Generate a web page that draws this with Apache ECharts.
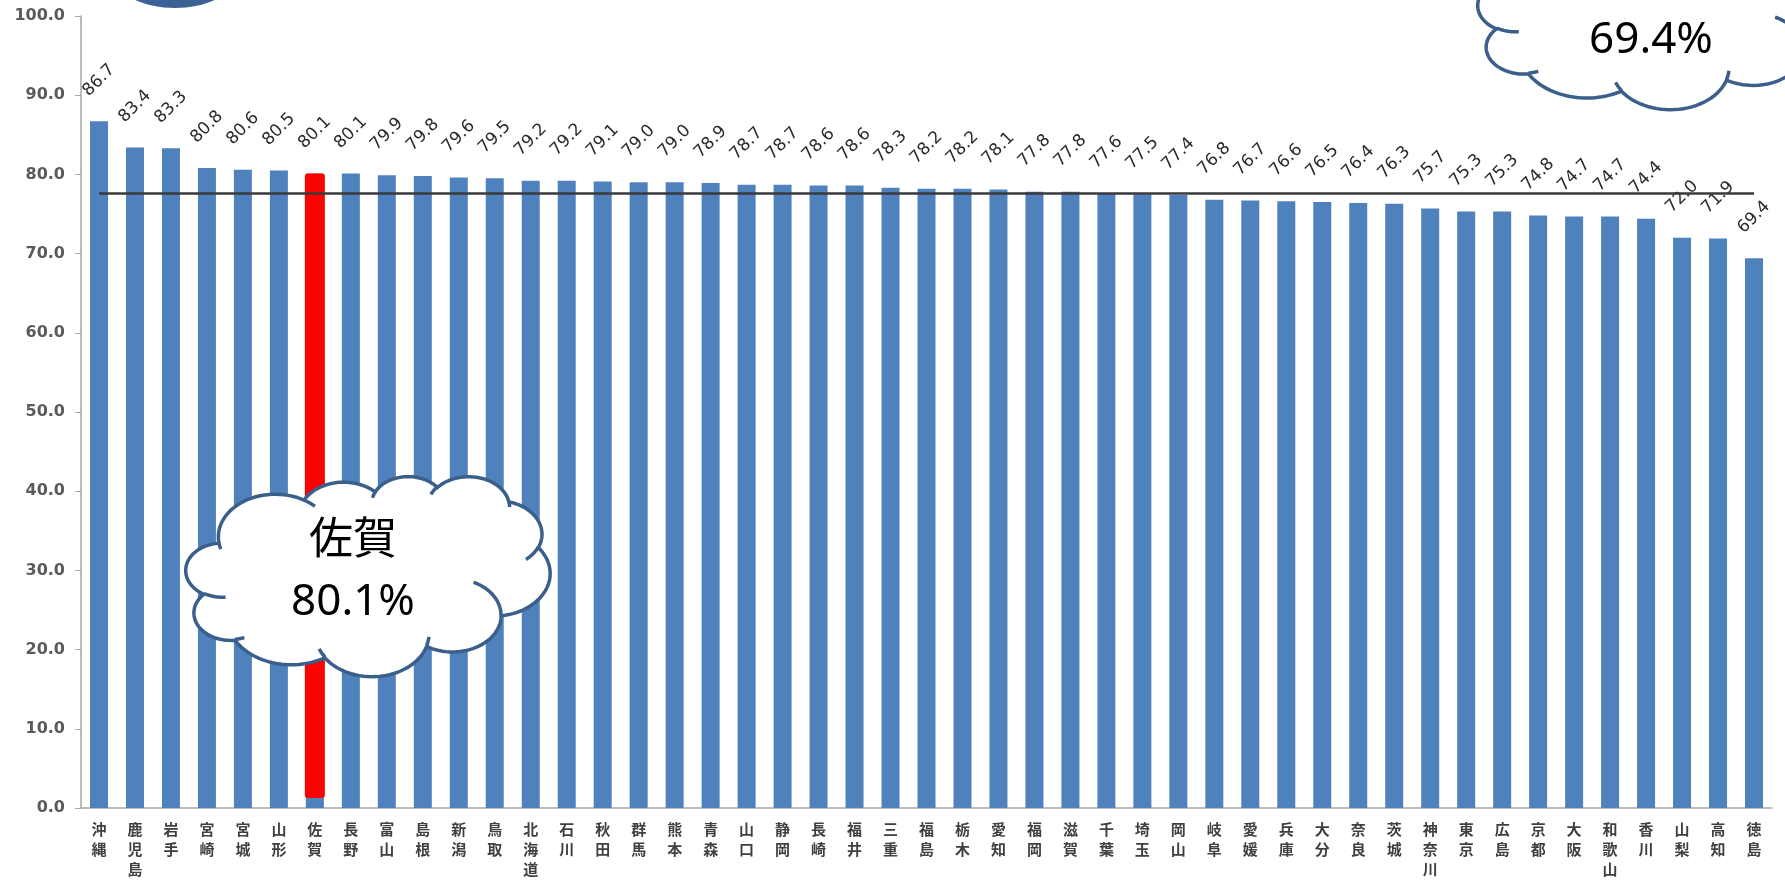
<!DOCTYPE html>
<html>
<head>
<meta charset="utf-8">
<script src="https://cdn.jsdelivr.net/npm/echarts@6/dist/echarts.min.js"></script>
<style>
  html, body { margin: 0; padding: 0; background: #fff; }
  #chart { width: 1785px; height: 883px; }
</style>
</head>
<body>
<div id="chart"></div>
<script>
// 都道府県（降順）
const prefectures = [
  '沖縄', '鹿児島', '岩手', '宮崎', '宮城', '山形', '佐賀', '長野', '富山', '島根',
  '新潟', '鳥取', '北海道', '石川', '秋田', '群馬', '熊本', '青森', '山口', '静岡',
  '長崎', '福井', '三重', '福島', '栃木', '愛知', '福岡', '滋賀', '千葉', '埼玉',
  '岡山', '岐阜', '愛媛', '兵庫', '大分', '奈良', '茨城', '神奈川', '東京', '広島',
  '京都', '大阪', '和歌山', '香川', '山梨', '高知', '徳島'
];
const rates = [
  86.7, 83.4, 83.3, 80.8, 80.6, 80.5, 80.1, 80.1, 79.9, 79.8,
  79.6, 79.5, 79.2, 79.2, 79.1, 79.0, 79.0, 78.9, 78.7, 78.7,
  78.6, 78.6, 78.3, 78.2, 78.2, 78.1, 77.8, 77.8, 77.6, 77.5,
  77.4, 76.8, 76.7, 76.6, 76.5, 76.4, 76.3, 75.7, 75.3, 75.3,
  74.8, 74.7, 74.7, 74.4, 72.0, 71.9, 69.4
];
const nationalAvg = 77.6; // 全国平均の横線
const highlightName = '佐賀';
const lowestName = '徳島';

const highlightIdx = prefectures.indexOf(highlightName);
const lowestIdx = prefectures.indexOf(lowestName);

// PowerPointの雲形 (43200 x 43200)
const CLOUD_START = [3900, 14370];
const CLOUD_ARCS = [
  [6753, 9190, -11429249, 7426832],
  [5333, 7267, -8646143, 5396714],
  [4365, 5945, -8748475, 5983381],
  [4857, 6595, -7859164, 7034504],
  [5333, 7273, -4722533, 6541615],
  [6775, 9220, -2776035, 7816140],
  [5785, 7867, 37501, 6842000],
  [6752, 9215, 1347096, 6910353],
  [7720, 10543, 3974558, 4542661],
  [4360, 5918, -16496525, 8804134],
  [4345, 5945, -14809710, 9151131]
];
const CLOUD_HOOKS = [
  [4693, 26177, 4345, 5945, 5204520, 1585770],
  [6928, 34899, 4360, 5918, 4416628, 686848],
  [16478, 39090, 6752, 9215, 8257449, 844866],
  [28827, 34751, 6752, 9215, 387196, 959901],
  [34129, 22954, 5785, 7867, -4217541, 4255042],
  [41798, 15354, 5333, 7273, 1819082, 1665090],
  [38324, 5426, 4857, 6595, -824660, 891534],
  [29078, 3952, 4857, 6595, -8950887, 1091722],
  [22141, 4720, 4365, 5945, -9809656, 1061181],
  [14000, 5192, 6753, 9190, -4002417, 739161],
  [4127, 15789, 6753, 9190, 9459261, 711490]
];

function arcTo(pts, wR, hR, stAng, swAng) {
  const [px, py] = pts[pts.length - 1];
  const st = stAng / 60000 * Math.PI / 180;
  const sw = swAng / 60000 * Math.PI / 180;
  const toParam = a => Math.atan2(wR * Math.sin(a), hR * Math.cos(a));
  const t1 = toParam(st);
  let t2 = toParam(st + sw);
  while (t2 - t1 - sw > Math.PI) t2 -= 2 * Math.PI;
  while (t2 - t1 - sw < -Math.PI) t2 += 2 * Math.PI;
  const cx = px - wR * Math.cos(t1);
  const cy = py - hR * Math.sin(t1);
  const n = 30;
  for (let i = 1; i <= n; i++) {
    const t = t1 + (t2 - t1) * i / n;
    pts.push([cx + wR * Math.cos(t), cy + hR * Math.sin(t)]);
  }
}

function cloud(x0, y0, w, h, text, tx, ty) {
  const map = p => [x0 + p[0] * w / 43200, y0 + p[1] * h / 43200];
  const stroke = { stroke: '#3a5f8b', lineWidth: 3.5 };
  let outline = [CLOUD_START.slice()];
  CLOUD_ARCS.forEach(a => arcTo(outline, a[0], a[1], a[2], a[3]));
  const children = [{
    type: 'polygon',
    z: 100,
    shape: { points: outline.map(map) },
    style: Object.assign({ fill: '#fff' }, stroke)
  }];
  CLOUD_HOOKS.forEach(hk => {
    let pts = [[hk[0], hk[1]]];
    arcTo(pts, hk[2], hk[3], hk[4], hk[5]);
    children.push({
      type: 'polyline',
      z: 101,
      shape: { points: pts.map(map) },
      style: Object.assign({ fill: null }, stroke)
    });
  });
  children.push({
    type: 'text',
    z: 102,
    style: {
      text: text, x: tx, y: ty,
      align: 'center', verticalAlign: 'middle',
      fontSize: 44, lineHeight: 61,
      fontFamily: '"Noto Sans", "Noto Sans CJK JP"',
      fill: '#000'
    }
  });
  return { type: 'group', children: children };
}

const chart = echarts.init(document.getElementById('chart'));

chart.setOption({
  animation: false,
  backgroundColor: '#fff',
  grid: { left: 81, right: 13, top: 16, bottom: 75 },
  xAxis: {
    type: 'category',
    data: prefectures,
    axisLine: { lineStyle: { color: '#a6a6a6', width: 1.5 } },
    axisTick: { length: 6, lineStyle: { color: '#a6a6a6' } },
    axisLabel: {
      interval: 0,
      margin: 11,
      fontSize: 15,
      lineHeight: 20,
      fontWeight: 'bold',
      color: '#404040',
      fontFamily: '"Noto Sans CJK JP"',
      formatter: name => name.split('').join('\n')
    }
  },
  yAxis: {
    type: 'value',
    min: 0,
    max: 100,
    interval: 10,
    axisLine: { show: true, lineStyle: { color: '#a6a6a6', width: 1.5 } },
    axisTick: { show: true, length: 6, lineStyle: { color: '#a6a6a6' } },
    splitLine: { show: false },
    axisLabel: {
      margin: 16,
      fontSize: 16,
      fontWeight: 'bold',
      color: '#5a5a5a',
      fontFamily: '"DejaVu Sans"',
      formatter: v => v.toFixed(1)
    }
  },
  series: [
    {
      type: 'bar',
      data: rates,
      barWidth: 18,
      itemStyle: { color: '#4f81bd' },
      label: {
        show: true,
        position: 'top',
        distance: 41,
        rotate: 45,
        align: 'center',
        verticalAlign: 'middle',
        fontSize: 17,
        color: '#2b2b2b',
        fontFamily: '"DejaVu Sans"',
        formatter: p => p.value.toFixed(1)
      }
    },
    {
      // 佐賀の赤いバー
      type: 'custom',
      z: 3,
      data: [[highlightIdx, rates[highlightIdx]]],
      renderItem: (params, api) => {
        const top = api.coord([api.value(0), api.value(1)]);
        const base = api.coord([api.value(0), 0]);
        return {
          type: 'rect',
          shape: { x: top[0] - 10, y: top[1], width: 20, height: base[1] - top[1] - 10, r: 3 },
          style: { fill: '#ff0000' }
        };
      },
      markLine: {
        silent: true,
        symbol: 'none',
        z: 5,
        label: { show: false },
        lineStyle: { color: '#3a3a3a', width: 2.5, type: 'solid' },
        data: [[
          { coord: [prefectures[0], nationalAvg] },
          { coord: [prefectures[prefectures.length - 1], nationalAvg] }
        ]]
      }
    }
  ],
  graphic: [
    {
      type: 'ellipse',
      z: 100,
      shape: { cx: 175, cy: -24, rx: 60, ry: 32 },
      style: { fill: '#3c6295' }
    },
    cloud(186, 476, 364, 200, highlightName + '\n' + rates[highlightIdx].toFixed(1) + '%', 353, 572),
    cloud(1478, -87, 376, 196, rates[lowestIdx].toFixed(1) + '%', 1651, 40)
  ]
});
</script>
</body>
</html>
